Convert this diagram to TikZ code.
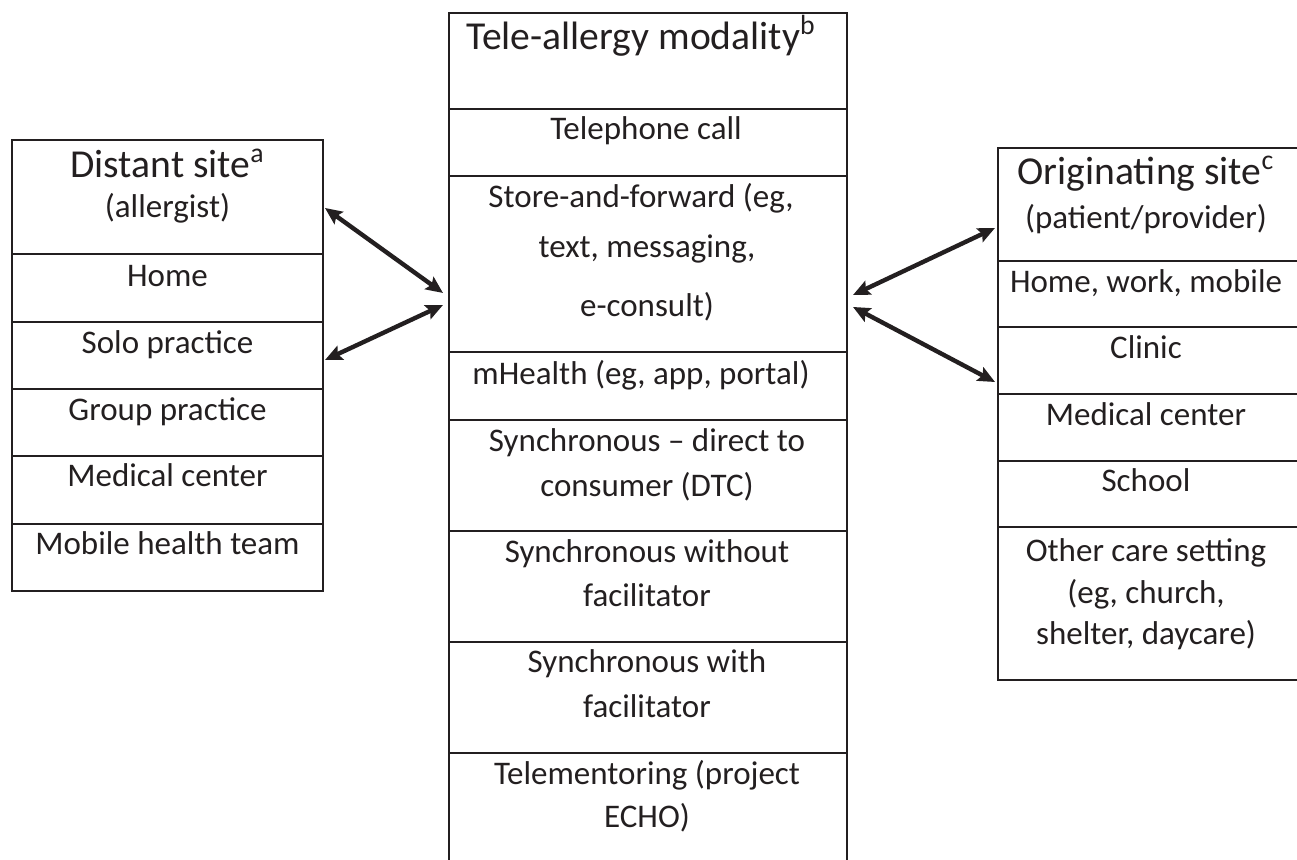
\documentclass[tikz,border=0pt]{standalone}
\usepackage{fontspec}
\setmainfont{Carlito}
\usepackage{xcolor}
\usetikzlibrary{arrows.meta}

\definecolor{ink}{RGB}{35,31,32}

\begin{document}
\begin{tikzpicture}[x=0.5pt, y=-0.5pt, >={Stealth[length=8.5pt, width=7.5pt, inset=1.5pt]},
  grid/.style={draw=ink, line width=1pt},
  txt/.style={anchor=base, inner sep=0pt, text=ink, font=\fontsize{16.5}{19}\selectfont},
  head/.style={txt, font=\fontsize{19.8}{23}\selectfont},
  link/.style={<->, draw=ink, line width=2.2pt}]

\useasboundingbox (0,0) rectangle (1297,860);

% Distant site column
\draw[grid] (12,140) rectangle (323,591);
\draw[grid] (12,254) -- (323,254) (12,322) -- (323,322) (12,389) -- (323,389)
            (12,456) -- (323,456) (12,524) -- (323,524);

% Modality column (runs off the bottom edge)
\draw[grid] (449,870) -- (449,13) -- (847,13) -- (847,870);
\draw[grid] (449,109) -- (847,109) (449,176) -- (847,176) (449,352) -- (847,352)
            (449,420) -- (847,420) (449,531) -- (847,531) (449,642) -- (847,642)
            (449,753) -- (847,753);

% Originating site column (runs off the right edge)
\draw[grid] (998,148) rectangle (1299,680);
\draw[grid] (998,261) -- (1299,261) (998,327) -- (1299,327) (998,394) -- (1299,394)
            (998,461) -- (1299,461) (998,527) -- (1299,527);

% Distant site texts
\node[head] (dTa) at (167.5,178) {Distant site\textsuperscript{a}};
\node[txt] (dTb) at (167.5,218) {(allergist)};
\node[txt] (d1) at (167.5,287) {Home};
\node[txt] (d2) at (167.5,354) {Solo practice};
\node[txt] (d3) at (167.5,421) {Group practice};
\node[txt] (d4) at (167.5,487) {Medical center};
\node[txt] (d5) at (167.5,555) {Mobile health team};

% Modality texts
\node[head] (mT) at (641,50) {Tele-allergy modality\textsuperscript{b}};
\node[txt] (m1) at (646,140) {Telephone call};
\node[txt] (m2a) at (641,208) {Store-and-forward (eg,};
\node[txt] (m2b) at (647,258) {text, messaging,};
\node[txt] (m2c) at (647,317) {e-consult)};
\node[txt] (m3) at (641,385) {mHealth (eg, app, portal)};
\node[txt] (m4a) at (647,452) {Synchronous -- direct to};
\node[txt] (m4b) at (647,497) {consumer (DTC)};
\node[txt] (m5a) at (647,563) {Synchronous without};
\node[txt] (m5b) at (647,607) {facilitator};
\node[txt] (m6a) at (647,673) {Synchronous with};
\node[txt] (m6b) at (647,718) {facilitator};
\node[txt] (m7a) at (647,785) {Telementoring (project};
\node[txt] (m7b) at (647,828) {ECHO)};

% Originating site texts
\node[head] (oTa) at (1146,185) {Originating site\textsuperscript{c}};
\node[txt] (oTb) at (1146,229) {(patient/provider)};
\node[txt] (o1) at (1146,293) {Home, work, mobile};
\node[txt] (o2) at (1146,359) {Clinic};
\node[txt] (o3) at (1146,426) {Medical center};
\node[txt] (o4) at (1146,492) {School};
\node[txt] (o5a) at (1146,562) {Other care setting};
\node[txt] (o5b) at (1146,604) {(eg, church,};
\node[txt] (o5c) at (1146,645) {shelter, daycare)};

% Arrow ends on the column edges
\coordinate (dA) at (325,208);
\coordinate (dB) at (325,360);
\coordinate (mA) at (443,293);
\coordinate (mB) at (443,305);
\coordinate (mC) at (853,295);
\coordinate (mD) at (853,307);
\coordinate (oA) at (995,228);
\coordinate (oB) at (995,382);

% Two-way links
\draw[link] (dA) -- (mA);
\draw[link] (dB) -- (mB);
\draw[link] (mC) -- (oA);
\draw[link] (mD) -- (oB);

\end{tikzpicture}
\end{document}
